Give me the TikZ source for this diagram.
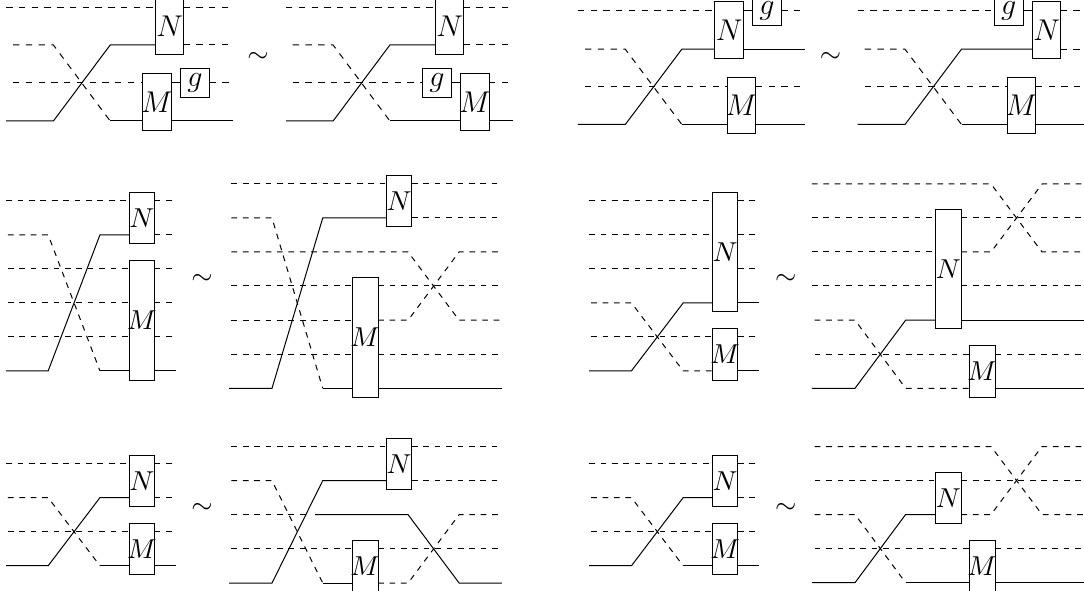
\documentclass[tikz,border=0pt]{standalone}
\tikzset{
  every path/.style={line width=0.4pt},
  sol/.style={draw=black},
  dsh/.style={draw=black,dash pattern=on 2.55pt off 2.55pt},
  dss/.style={draw=black,dash pattern=on 2.28pt off 2.28pt},
  gate/.style={draw=black,fill=white,inner sep=0pt,outer sep=0pt,font=\fontsize{11.5}{11.5}\selectfont},
  gates/.style={gate,font=\fontsize{10.7}{10.7}\selectfont},
  rel/.style={inner sep=0pt,font=\fontsize{10.5}{10.5}\selectfont},
  lbl/.style={inner sep=0pt,font=\fontsize{11.5}{11.5}\selectfont}
}
\newcommand\gatenode[7]{\node[#1,minimum width={(#4-#3)*0.4pt},minimum height={(#6-#5)*0.4pt}] (#2) at ({(#3+#4)/2},{(#5+#6)/2}) {\makebox[0pt][c]{$#7$}};}
\newcommand\cols[5]{\coordinate (s) at (#1,0);\coordinate (d) at (#2,0);\coordinate (a) at (#3,0);\coordinate (b) at (#4,0);\coordinate (e) at (#5,0);}
\newcommand\rowsfour[4]{\coordinate (y1) at (0,#1);\coordinate (y2) at (0,#2);\coordinate (y3) at (0,#3);\coordinate (y4) at (0,#4);}
\begin{document}
\begin{tikzpicture}[x=0.4pt,y=-0.4pt]
\useasboundingbox (0,0) rectangle (1084,591);
\node[rel] (t1) at (258,57.3) {$\sim$};
\node[rel] (t2) at (830.5,57.3) {$\sim$};
\node[rel] (t3) at (202,279.5) {$\sim$};
\node[rel] (t4) at (785.8,279.5) {$\sim$};
\node[rel] (t5) at (202,508.3) {$\sim$};
\node[rel] (t6) at (785.8,508.3) {$\sim$};
% ---- top row, left
\begin{scope}[name prefix=A-]
\cols{6.2}{13}{53.4}{110.2}{233}\rowsfour{7.3}{45}{83}{121}
\gatenode{gate}{N}{155.7}{183.6}{-2}{54.7}{N}
\gatenode{gate}{M}{142.6}{171.2}{73.3}{130.5}{M}
\gatenode{gate}{g}{180.5}{209.4}{69}{97.3}{g}
\draw[dsh] (s|-y1) -- (N.west|-y1);
\draw[dsh] (N.east|-y1) -- (e|-y1);
\draw[dsh] (d|-y2) -- (a|-y2) -- (b|-y4);
\draw[sol] (b|-y4) -- (M.west|-y4);
\draw[sol] (M.east|-y4) -- (e|-y4);
\draw[dsh] (d|-y3) -- (M.west|-y3);
\draw[sol] (M.east|-y3) -- (g.west|-y3);
\draw[dsh] (g.east|-y3) -- (e|-y3);
\draw[sol] (s|-y4) -- (a|-y4) -- (b|-y2) -- (N.west|-y2);
\draw[dsh] (N.east|-y2) -- (e|-y2);
\end{scope}
\begin{scope}[name prefix=B-]
\cols{286}{292.7}{333.1}{389.9}{512.7}\rowsfour{7.3}{45}{83}{121}
\gatenode{gate}{N}{435.7}{463.6}{-2}{54.7}{N}
\gatenode{gate}{M}{460.8}{489}{73.3}{130.5}{M}
\gatenode{gate}{g}{422.6}{451.2}{69}{97.3}{g}
\draw[dsh] (s|-y1) -- (N.west|-y1);
\draw[dsh] (N.east|-y1) -- (e|-y1);
\draw[dsh] (d|-y2) -- (a|-y2) -- (b|-y4);
\draw[sol] (b|-y4) -- (M.west|-y4);
\draw[sol] (M.east|-y4) -- (e|-y4);
\draw[dsh] (d|-y3) -- (g.west|-y3);
\draw[sol] (g.east|-y3) -- (M.west|-y3);
\draw[dsh] (M.east|-y3) -- (e|-y3);
\draw[sol] (s|-y4) -- (a|-y4) -- (b|-y2) -- (N.west|-y2);
\draw[dsh] (N.east|-y2) -- (e|-y2);
\end{scope}
% ---- top row, right
\begin{scope}[name prefix=C-]
\cols{577.8}{585}{625.3}{681.8}{804.7}\rowsfour{10.8}{49.2}{86.9}{124.5}
\gatenode{gate}{N}{714.8}{743.4}{1.5}{58.3}{N}
\gatenode{gate}{M}{727.2}{755.8}{77.3}{134}{M}
\gatenode{gate}{g}{752.7}{781.3}{-3}{25.2}{}
\node[lbl] (gl) at (g.center) {$g$};
\draw[dsh] (s|-y1) -- (N.west|-y1);
\draw[sol] (N.east|-y1) -- (g.west|-y1);
\draw[dsh] (g.east|-y1) -- (e|-y1);
\draw[dsh] (d|-y2) -- (a|-y2) -- (b|-y4);
\draw[sol] (b|-y4) -- (M.west|-y4);
\draw[sol] (M.east|-y4) -- (e|-y4);
\draw[dsh] (d|-y3) -- (M.west|-y3);
\draw[dsh] (M.east|-y3) -- (e|-y3);
\draw[sol] (s|-y4) -- (a|-y4) -- (b|-y2) -- (N.west|-y2);
\draw[sol] (N.east|-y2) -- (e|-y2);
\end{scope}
\begin{scope}[name prefix=D-]
\cols{857.5}{864.7}{905}{961.5}{1084.4}\rowsfour{10.8}{49.2}{86.9}{124.5}
\gatenode{gate}{N}{1032.6}{1060.7}{1.5}{58.3}{N}
\gatenode{gate}{M}{1007.2}{1035.8}{77.3}{134}{M}
\gatenode{gate}{g}{994.6}{1023}{-3}{25.2}{}
\node[lbl] (gl) at (g.center) {$g$};
\draw[dsh] (s|-y1) -- (g.west|-y1);
\draw[sol] (g.east|-y1) -- (N.west|-y1);
\draw[dsh] (N.east|-y1) -- (e|-y1);
\draw[dsh] (d|-y2) -- (a|-y2) -- (b|-y4);
\draw[sol] (b|-y4) -- (M.west|-y4);
\draw[sol] (M.east|-y4) -- (e|-y4);
\draw[dsh] (d|-y3) -- (M.west|-y3);
\draw[dsh] (M.east|-y3) -- (e|-y3);
\draw[sol] (s|-y4) -- (a|-y4) -- (b|-y2) -- (N.west|-y2);
\draw[dsh] (N.east|-y2) -- (e|-y2);
\end{scope}
% ---- middle row, left
\begin{scope}[name prefix=E-]
\cols{6.2}{7.9}{48.2}{99.9}{176}
\rowsfour{201}{235}{269}{303}\coordinate (y5) at (0,337);\coordinate (y6) at (0,370.8);
\gatenode{gates}{N}{129.1}{154.6}{192.3}{243.4}{N}
\gatenode{gates}{M}{129.1}{154.6}{260.3}{380}{M}
\draw[dss] (s|-y1) -- (N.west|-y1);
\draw[dss] (N.east|-y1) -- (e|-y1);
\draw[dss] (d|-y2) -- (a|-y2) -- (b|-y6);
\draw[sol] (b|-y6) -- (M.west|-y6);
\draw[sol] (M.east|-y6) -- (e|-y6);
\draw[sol] (s|-y6) -- (a|-y6) -- (b|-y2) -- (N.west|-y2);
\draw[dss] (N.east|-y2) -- (e|-y2);
\foreach \r in {y3,y4,y5}{
  \draw[dss] (d|-\r) -- (M.west|-\r);
  \draw[dss] (M.east|-\r) -- (e|-\r);
}
\end{scope}
\begin{scope}[name prefix=F-]
\cols{229}{231.4}{272}{322.7}{501.8}
\rowsfour{184}{218}{252}{286}\coordinate (y5) at (0,320.2);\coordinate (y6) at (0,354.2);\coordinate (y7) at (0,388.3);
\coordinate (p) at (408.1,0);\coordinate (q) at (459.1,0);
\gatenode{gates}{N}{386.4}{411.9}{175.3}{226.7}{N}
\gatenode{gates}{M}{352.3}{378.1}{277.3}{397}{M}
\draw[dss] (d|-y1) -- (N.west|-y1);
\draw[dss] (N.east|-y1) -- (e|-y1);
\draw[dss] (d|-y2) -- (a|-y2) -- (b|-y7);
\draw[sol] (b|-y7) -- (M.west|-y7);
\draw[sol] (M.east|-y7) -- (e|-y7);
\draw[sol] (s|-y7) -- (a|-y7) -- (b|-y2) -- (N.west|-y2);
\draw[dss] (N.east|-y2) -- (e|-y2);
\draw[dss] (d|-y3) -- (p|-y3) -- (q|-y5) -- (e|-y5);
\draw[dss] (d|-y4) -- (M.west|-y4);
\draw[dss] (M.east|-y4) -- (e|-y4);
\draw[dss] (d|-y5) -- (M.west|-y5);
\draw[dss] (M.east|-y5) -- (p|-y5) -- (q|-y3) -- (e|-y3);
\draw[dss] (d|-y6) -- (M.west|-y6);
\draw[dss] (M.east|-y6) -- (e|-y6);
\end{scope}
% ---- middle row, right
\begin{scope}[name prefix=G-]
\cols{589.1}{591.2}{631.5}{683.1}{758.9}
\rowsfour{201}{235}{269}{303}\coordinate (y5) at (0,337);\coordinate (y6) at (0,370.8);
\gatenode{gates}{N}{712.4}{737.9}{192.3}{311.7}{N}
\gatenode{gates}{M}{712.4}{737.9}{328.3}{380}{M}
\foreach \r in {y1,y2,y3}{
  \draw[dss] (s|-\r) -- (N.west|-\r);
  \draw[dss] (N.east|-\r) -- (e|-\r);
}
\draw[dss] (d|-y4) -- (a|-y4) -- (b|-y6) -- (M.west|-y6);
\draw[sol] (M.east|-y6) -- (e|-y6);
\draw[sol] (s|-y6) -- (a|-y6) -- (b|-y4) -- (N.west|-y4);
\draw[sol] (N.east|-y4) -- (e|-y4);
\draw[dss] (d|-y5) -- (M.west|-y5);
\draw[dss] (M.east|-y5) -- (e|-y5);
\end{scope}
\begin{scope}[name prefix=H-]
\cols{811.9}{814.7}{855}{905.6}{1084.4}
\rowsfour{184}{218}{252}{286}\coordinate (y5) at (0,320.2);\coordinate (y6) at (0,354.2);\coordinate (y7) at (0,388.3);
\coordinate (p) at (991,0);\coordinate (q) at (1042,0);
\gatenode{gates}{N}{935.2}{961.4}{209.3}{328.7}{N}
\gatenode{gates}{M}{969.3}{995.2}{345.3}{397}{M}
\draw[dss] (s|-y1) -- (p|-y1) -- (q|-y3) -- (e|-y3);
\draw[dss] (s|-y2) -- (N.west|-y2);
\draw[dss] (N.east|-y2) -- (e|-y2);
\draw[dss] (s|-y3) -- (N.west|-y3);
\draw[dss] (N.east|-y3) -- (p|-y3) -- (q|-y1) -- (e|-y1);
\draw[dss] (s|-y4) -- (N.west|-y4);
\draw[dss] (N.east|-y4) -- (e|-y4);
\draw[dss] (d|-y5) -- (a|-y5) -- (b|-y7) -- (M.west|-y7);
\draw[sol] (M.east|-y7) -- (e|-y7);
\draw[sol] (s|-y7) -- (a|-y7) -- (b|-y5) -- (N.west|-y5);
\draw[sol] (N.east|-y5) -- (e|-y5);
\draw[dss] (d|-y6) -- (M.west|-y6);
\draw[dss] (M.east|-y6) -- (e|-y6);
\end{scope}
% ---- bottom row, left
\begin{scope}[name prefix=I-]
\cols{6.2}{7.9}{48.2}{99.9}{176}\rowsfour{463.7}{497.7}{531.7}{565.7}
\gatenode{gates}{N}{129.1}{154.6}{455.3}{506.5}{N}
\gatenode{gates}{M}{129.1}{154.6}{523.3}{574.5}{M}
\draw[dss] (s|-y1) -- (N.west|-y1);
\draw[dss] (N.east|-y1) -- (e|-y1);
\draw[dss] (d|-y2) -- (a|-y2) -- (b|-y4);
\draw[sol] (b|-y4) -- (M.west|-y4);
\draw[sol] (M.east|-y4) -- (e|-y4);
\draw[sol] (s|-y4) -- (a|-y4) -- (b|-y2) -- (N.west|-y2);
\draw[dss] (N.east|-y2) -- (e|-y2);
\draw[dss] (d|-y3) -- (M.west|-y3);
\draw[dss] (M.east|-y3) -- (e|-y3);
\end{scope}
\begin{scope}[name prefix=J-]
\cols{229}{231.4}{272}{322.7}{501.8}
\rowsfour{446.7}{480.7}{514.7}{548.7}\coordinate (y5) at (0,583);
\coordinate (p) at (408.1,0);\coordinate (q) at (459.1,0);\coordinate (u) at (309,0);\coordinate (v) at (315,0);
\gatenode{gates}{N}{386.4}{411.9}{438.3}{489.5}{N}
\gatenode{gates}{M}{352.3}{378.1}{540.3}{591.8}{M}
\draw[dss] (d|-y1) -- (N.west|-y1);
\draw[dss] (N.east|-y1) -- (e|-y1);
\draw[dss] (d|-y2) -- (a|-y2) -- (b|-y5);
\draw[sol] (b|-y5) -- (M.west|-y5);
\draw[dss] (M.east|-y5) -- (p|-y5) -- (q|-y3) -- (e|-y3);
\draw[sol] (s|-y5) -- (a|-y5) -- (b|-y2) -- (N.west|-y2);
\draw[dss] (N.east|-y2) -- (e|-y2);
\draw[dss] (d|-y3) -- (u|-y3);
\draw[sol] (v|-y3) -- (p|-y3) -- (q|-y5) -- (e|-y5);
\draw[dss] (d|-y4) -- (M.west|-y4);
\draw[dss] (M.east|-y4) -- (e|-y4);
\end{scope}
% ---- bottom row, right
\begin{scope}[name prefix=K-]
\cols{589.1}{591.2}{631.5}{683.1}{758.9}\rowsfour{463.7}{497.7}{531.7}{565.7}
\gatenode{gates}{N}{712.4}{737.9}{455.3}{506.5}{N}
\gatenode{gates}{M}{712.4}{737.9}{523.3}{574.5}{M}
\draw[dss] (s|-y1) -- (N.west|-y1);
\draw[dss] (N.east|-y1) -- (e|-y1);
\draw[dss] (d|-y2) -- (a|-y2) -- (b|-y4);
\draw[sol] (b|-y4) -- (M.west|-y4);
\draw[sol] (M.east|-y4) -- (e|-y4);
\draw[sol] (s|-y4) -- (a|-y4) -- (b|-y2) -- (N.west|-y2);
\draw[dss] (N.east|-y2) -- (e|-y2);
\draw[dss] (d|-y3) -- (M.west|-y3);
\draw[dss] (M.east|-y3) -- (e|-y3);
\end{scope}
\begin{scope}[name prefix=L-]
\cols{811.9}{814.7}{855}{905.6}{1084.4}
\rowsfour{446.5}{480.5}{514.5}{548.5}\coordinate (y5) at (0,582.7);
\coordinate (p) at (991,0);\coordinate (q) at (1042,0);
\gatenode{gates}{N}{935.2}{961.4}{472}{523.3}{N}
\gatenode{gates}{M}{969.3}{995.2}{540}{591.8}{M}
\draw[dss] (d|-y1) -- (p|-y1) -- (q|-y3) -- (e|-y3);
\draw[dss] (d|-y2) -- (N.west|-y2);
\draw[dss] (N.east|-y2) -- (e|-y2);
\draw[dss] (d|-y3) -- (a|-y3) -- (b|-y5);
\draw[sol] (b|-y5) -- (M.west|-y5);
\draw[sol] (M.east|-y5) -- (e|-y5);
\draw[sol] (s|-y5) -- (a|-y5) -- (b|-y3) -- (N.west|-y3);
\draw[dss] (N.east|-y3) -- (p|-y3) -- (q|-y1) -- (e|-y1);
\draw[dss] (d|-y4) -- (M.west|-y4);
\draw[dss] (M.east|-y4) -- (e|-y4);
\end{scope}
\end{tikzpicture}
\end{document}
